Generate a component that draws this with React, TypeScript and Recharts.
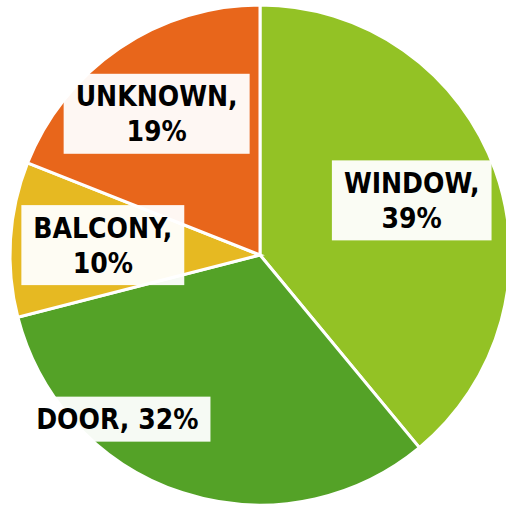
import { useLayoutEffect, useRef, useState } from "react";
import { PieChart, Pie, Cell } from "recharts";

const categories = ["WINDOW", "DOOR", "BALCONY", "UNKNOWN"];
const shares = [39, 32, 10, 19];
const colors = ["#93C225", "#54A227", "#E6B922", "#E8661B"];

// label placement tweaks (fraction of radius, angle nudge in degrees, wrap to two lines)
const labelRadius = [0.645, 0.87, 0.63, 0.7];
const labelAngleShift = [0, -23, 0, 2];
const labelWrap = [true, false, true, true];

const data = categories.map((name, i) => ({ name, value: shares[i] }));

const RADIAN = Math.PI / 180;
const FONT = "'DejaVu Sans Condensed', 'DejaVu Sans', sans-serif";
const FONT_SIZE = 28;
const LINE_GAP = 35;

function LabelBox({ x, y, lines }: { x: number; y: number; lines: string[] }) {
  const ref = useRef<SVGTextElement>(null);
  const [box, setBox] = useState<{ x: number; y: number; w: number; h: number } | null>(null);

  useLayoutEffect(() => {
    if (ref.current) {
      const b = ref.current.getBBox();
      setBox({ x: b.x, y: b.y, w: b.width, h: b.height });
    }
  }, [x, y, lines.join("|")]);

  const top = y - ((lines.length - 1) * LINE_GAP) / 2;
  const padX = 12;
  const padY = 6;

  return (
    <g>
      {box && (
        <rect
          x={box.x - padX}
          y={box.y - padY}
          width={box.w + padX * 2}
          height={box.h + padY * 2}
          fill="#ffffff"
          fillOpacity={0.95}
        />
      )}
      <text
        ref={ref}
        x={x}
        y={top}
        textAnchor="middle"
        dominantBaseline="central"
        fontFamily={FONT}
        fontWeight="bold"
        fontSize={FONT_SIZE}
        fill="#000"
      >
        {lines.map((l, i) => (
          <tspan key={i} x={x} dy={i === 0 ? 0 : LINE_GAP}>
            {l}
          </tspan>
        ))}
      </text>
    </g>
  );
}

const renderLabel = (props: any) => {
  const { cx, cy, midAngle, outerRadius, index, name, value } = props;
  const r = outerRadius * labelRadius[index];
  const a = (midAngle + labelAngleShift[index]) * RADIAN;
  const x = cx + r * Math.cos(-a);
  const y = cy + r * Math.sin(-a);
  const lines = labelWrap[index] ? [`${name},`, `${value}%`] : [`${name}, ${value}%`];
  return <LabelBox key={`lbl-${index}`} x={x} y={y} lines={lines} />;
};

export default function App() {
  return (
    <div style={{ position: "fixed", left: 0, top: 0, width: 506, height: 506, background: "#fff" }}>
      <PieChart width={506} height={506} margin={{ top: 0, right: 0, bottom: 0, left: 0 }}>
        <Pie
          data={data}
          dataKey="value"
          nameKey="name"
          cx={260}
          cy={255}
          outerRadius={250}
          startAngle={90}
          endAngle={-270}
          stroke="#ffffff"
          strokeWidth={3}
          labelLine={false}
          label={renderLabel}
          isAnimationActive={false}
        >
          {data.map((d, i) => (
            <Cell key={d.name} fill={colors[i]} />
          ))}
        </Pie>
      </PieChart>
    </div>
  );
}
